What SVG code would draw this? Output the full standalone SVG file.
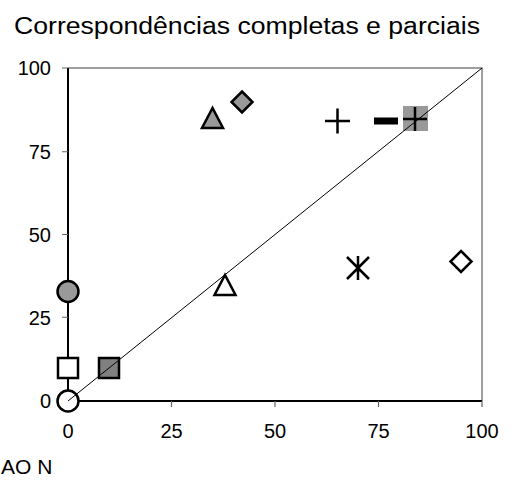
<svg xmlns="http://www.w3.org/2000/svg" width="510" height="481" viewBox="0 0 510 481">
<style>
text{font-family:"Liberation Sans",Arial,sans-serif;fill:#000}
.title{font-size:23.5px}
.tick{font-size:20px}
.ax{stroke:#000;stroke-width:2;fill:none}
.frame{stroke:#808080;stroke-width:1.5;fill:none}
.tk{stroke:#666;stroke-width:1.2}
.mk{stroke:#000;stroke-width:2.5;stroke-linejoin:miter}
.open{fill:#fff}
.gray{fill:#999}
.dark{fill:#808080}
.cross{stroke:#000;stroke-width:2.5;fill:none}
</style>
<rect width="510" height="481" fill="#fff"/>
<text class="title" x="14" y="34" textLength="466" lengthAdjust="spacingAndGlyphs">Correspondências completas e parciais</text>
<g id="axes">
<path class="frame" d="M68,68 H482 V401"/>
<path class="ax" d="M68,68 V401 H482"/>
<path class="tk" d="M62,68 H68 M62,151.75 H68 M62,234.5 H68 M62,317.25 H68 M62,401 H68 M171.5,401 V407 M275,401 V407 M378.5,401 V407 M482,401 V407"/>
<g class="tick" text-anchor="end">
<text x="51" y="75">100</text>
<text x="51" y="158.5">75</text>
<text x="51" y="241.5">50</text>
<text x="51" y="324.5">25</text>
<text x="51" y="408">0</text>
</g>
<g class="tick" text-anchor="middle">
<text x="68" y="438">0</text>
<text x="171.5" y="438">25</text>
<text x="275" y="438">50</text>
<text x="378.5" y="438">75</text>
<text x="482" y="438">100</text>
</g>
</g>
<g id="node-circle-open"><circle class="mk open" cx="68" cy="401" r="10.5"/></g>
<g id="node-square-open"><rect class="mk open" x="58" y="358" width="20" height="20"/></g>
<g id="node-circle-gray"><circle class="mk gray" cx="68" cy="291.5" r="10.5"/></g>
<g id="node-square-dark"><rect class="mk dark" x="99" y="358" width="20" height="20"/></g>
<g id="node-triangle-open"><polygon class="mk open" points="225,275 214.5,295 235.5,295"/></g>
<g id="node-triangle-gray"><polygon class="mk gray" points="212.5,108 202,128 223,128"/></g>
<g id="node-diamond-gray"><polygon class="mk gray" points="242,91.5 252.5,102 242,112.5 231.5,102"/></g>
<g id="node-diamond-open"><polygon class="mk open" points="461,251 471.5,261.5 461,272 450.5,261.5"/></g>
<g id="node-plus"><path class="cross" d="M325,121 H350 M337.5,108.5 V133.5"/></g>
<g id="node-dash"><rect x="374" y="117.5" width="24" height="7" fill="#000"/></g>
<g id="node-asterisk"><path class="cross" d="M358,256 V280 M347,257 L369,279 M369,257 L347,279"/></g>
<g id="node-square-gray"><rect x="403" y="106" width="25" height="25" fill="#999"/></g>
<g id="connectors"><line x1="68" y1="401" x2="482" y2="68" stroke="#000" stroke-width="1"/></g>
<g id="node-plus-bold"><path class="cross" d="M403,119 H427 M415,107 V131" stroke-width="3"/></g>
<text x="1" y="474" font-size="21">AO N</text>
</svg>
